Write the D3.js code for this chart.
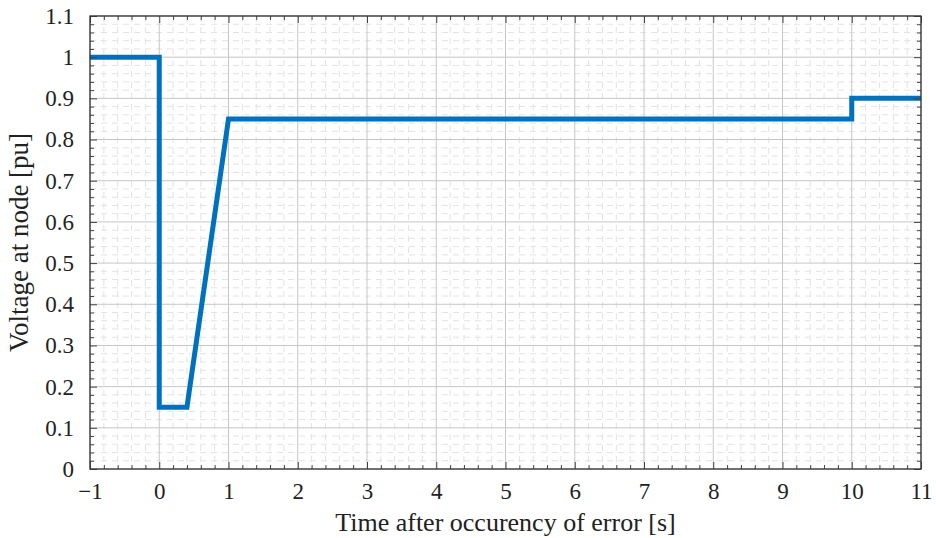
<!DOCTYPE html>
<html>
<head>
<meta charset="utf-8">
<script src="https://cdn.jsdelivr.net/npm/d3@7"></script>
<style>
  body { margin: 0; background: #fff; }
  svg { display: block; }
  svg text { font-family: 'Liberation Serif'; }
</style>
</head>
<body>
<svg id="chart" width="936" height="538"></svg>
<script>
// voltage profile after the fault
const timeS = [-1, 0, 0, 0.4, 1, 10, 10, 11];
const voltagePu = [1, 1, 0.15, 0.15, 0.85, 0.85, 0.9, 0.9];

const xTicks = [-1, 0, 1, 2, 3, 4, 5, 6, 7, 8, 9, 10, 11];
const yTicks = [0, 0.1, 0.2, 0.3, 0.4, 0.5, 0.6, 0.7, 0.8, 0.9, 1, 1.1];

const margin = { top: 16, right: 15, bottom: 69, left: 90 };
const width = 936 - margin.left - margin.right;
const height = 538 - margin.top - margin.bottom;

const svg = d3.select("#chart")
  .append("g")
  .attr("transform", `translate(${margin.left},${margin.top})`);

const x = d3.scaleLinear().domain([-1, 11]).range([0, width]);
const y = d3.scaleLinear().domain([0, 1.1]).range([height, 0]);

// minor positions (5 per major step)
const xMinor = d3.range(-1, 11.001, 0.2).filter(v => Math.abs(v - Math.round(v)) > 1e-6);
const yMinor = d3.range(0, 1.1001, 0.02).filter(v => Math.abs(v * 10 - Math.round(v * 10)) > 1e-6);

// minor grid, dashed
svg.append("g").selectAll("line").data(xMinor).enter().append("line")
  .attr("x1", d => x(d)).attr("x2", d => x(d))
  .attr("y1", 0).attr("y2", height)
  .attr("stroke", "#e3e3e3").attr("stroke-dasharray", "6,5");
svg.append("g").selectAll("line").data(yMinor).enter().append("line")
  .attr("y1", d => y(d)).attr("y2", d => y(d))
  .attr("x1", 0).attr("x2", width)
  .attr("stroke", "#e3e3e3").attr("stroke-dasharray", "6,5");

// major grid
svg.append("g").selectAll("line").data(xTicks).enter().append("line")
  .attr("x1", d => x(d)).attr("x2", d => x(d))
  .attr("y1", 0).attr("y2", height)
  .attr("stroke", "#c6c6c6");
svg.append("g").selectAll("line").data(yTicks).enter().append("line")
  .attr("y1", d => y(d)).attr("y2", d => y(d))
  .attr("x1", 0).attr("x2", width)
  .attr("stroke", "#c6c6c6");

// data line
const line = d3.line()
  .x((d, i) => x(timeS[i]))
  .y(d => y(d));

svg.append("path")
  .attr("fill", "none")
  .attr("stroke", "#0072bd")
  .attr("stroke-width", 5)
  .attr("stroke-linejoin", "miter")
  .attr("d", line(voltagePu));

// ticks on all four sides (inward)
const fmtX = d => d < 0 ? "\u2212" + Math.abs(d) : String(d);
const fmtY = d => String(+d.toFixed(1));

const addAxis = (axis, transform) => {
  const g = svg.append("g").attr("transform", transform).call(axis);
  g.select(".domain").remove();
  g.attr("font-family", null).attr("font-size", null);
  g.selectAll(".tick line").attr("stroke", "#444");
  return g;
};

// bottom
const xb = addAxis(d3.axisBottom(x).tickValues(xTicks).tickSizeInner(-7).tickSizeOuter(0).tickPadding(14).tickFormat(fmtX),
  `translate(0,${height})`);
xb.selectAll("text").style("font-size", "23px");
addAxis(d3.axisBottom(x).tickValues(xMinor).tickSize(-4).tickFormat(""), `translate(0,${height})`);
// top
addAxis(d3.axisTop(x).tickValues(xTicks).tickSize(-7).tickFormat(""), "translate(0,0)");
addAxis(d3.axisTop(x).tickValues(xMinor).tickSize(-4).tickFormat(""), "translate(0,0)");
// left
const yl = addAxis(d3.axisLeft(y).tickValues(yTicks).tickSizeInner(-7).tickSizeOuter(0).tickPadding(16).tickFormat(fmtY),
  "translate(0,0)");
yl.selectAll("text").style("font-size", "23px");
addAxis(d3.axisLeft(y).tickValues(yMinor).tickSize(-4).tickFormat(""), "translate(0,0)");
// right
addAxis(d3.axisRight(y).tickValues(yTicks).tickSize(-7).tickFormat(""), `translate(${width},0)`);
addAxis(d3.axisRight(y).tickValues(yMinor).tickSize(-4).tickFormat(""), `translate(${width},0)`);

svg.selectAll(".tick text").attr("fill", "#222");

// frame
svg.append("rect")
  .attr("width", width).attr("height", height)
  .attr("fill", "none").attr("stroke", "#333").attr("stroke-width", 1.3);

// axis titles
svg.append("text")
  .attr("x", width / 2).attr("y", height + 62)
  .attr("text-anchor", "middle")
  .style("font-size", "26px")
  .attr("fill", "#222")
  .text("Time after occurency of error [s]");

svg.append("text")
  .attr("transform", `translate(${-62},${height / 2}) rotate(-90)`)
  .attr("text-anchor", "middle")
  .style("font-size", "27px")
  .attr("fill", "#222")
  .text("Voltage at node [pu]");
</script>
</body>
</html>
